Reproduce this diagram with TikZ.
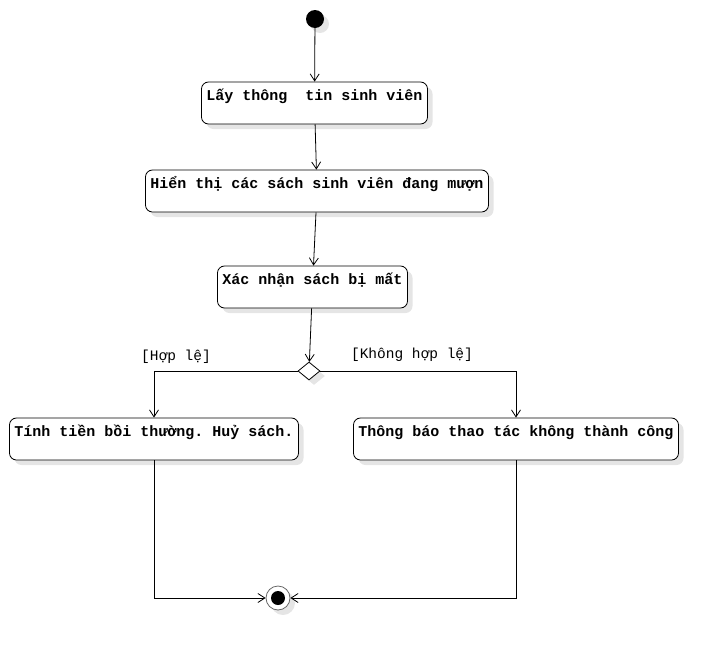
\documentclass[tikz,border=0pt]{standalone}
\usepackage{fontspec}
\setmonofont{Liberation Mono}
\usetikzlibrary{shapes.geometric, arrows.meta, shadows}
\tikzset{
x=1pt, y=-1pt, % one unit per pixel, y runs downwards
>={Straight Barb[length=7pt, width=9pt]}, % open arrow heads
flow/.style={->, line width=0.8pt}, % the connectors
shade/.style={drop shadow={shadow xshift=5pt, shadow yshift=-5pt, fill=black!10, opacity=1}}, % grey offset shadow
activity/.style={draw, line width=0.8pt, rounded corners=7pt, fill=white, shade, font=\ttfamily\bfseries\fontsize{15}{18}\selectfont, text height=11pt, text depth=17pt, inner xsep=5pt, inner ysep=7pt}, % action boxes, text at the top
guard/.style={font=\ttfamily\fontsize{14.5}{17}\selectfont}, % conditions on the branches
}
\begin{document}
\begin{tikzpicture}
    \useasboundingbox (0,0) rectangle (718,651);
    \node[circle, fill=black, minimum size=18pt, inner sep=0pt, shade] (start) at (315,19) {};
    \node[activity, minimum width=225pt] (info) at (314.5,103) {Lấy thông\ \ tin sinh viên};
    \node[activity, minimum width=342pt] (list) at (317,191) {Hiển thị các sách sinh viên đang mượn};
    \node[activity, minimum width=189pt] (lost) at (312.5,287) {Xác nhận sách bị mất};
    \node[diamond, draw, line width=0.8pt, fill=white, minimum width=22pt, minimum height=18pt, inner sep=0pt, shade] (check) at (309,371) {};
    \node[activity, minimum width=288pt] (fine) at (154,439) {Tính tiền bồi thường. Huỷ sách.};
    \node[activity, minimum width=324pt] (fail) at (516,439) {Thông báo thao tác không thành công};
    \node[circle, draw=black!60, line width=0.8pt, fill=white, minimum size=24pt, inner sep=0pt, shade,
        path picture={\fill[black] (path picture bounding box.center) circle (7pt);}] (stop) at (278,598) {};
    \node[guard] (okay) at (176,357) {[Hợp lệ]};
    \node[guard] (notokay) at (412,355) {[Không hợp lệ]};
    \draw[flow] (start) -- (info);
    \draw[flow] (info) -- (list);
    \draw[flow] (list) -- (lost);
    \draw[flow] (lost) -- (check);
    \draw[flow] (check.west) -| (fine);
    \draw[flow] (check.east) -| (fail);
    \draw[flow] (fine) |- (stop);
    \draw[flow] (fail) |- (stop);
\end{tikzpicture}
\end{document}
